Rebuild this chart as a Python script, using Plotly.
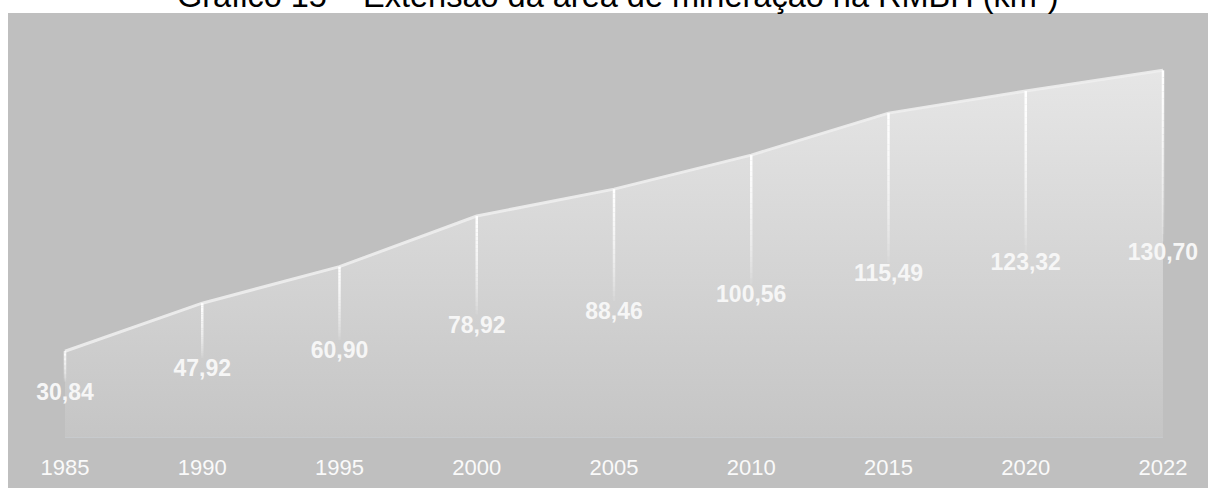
import plotly.graph_objects as go

# Mining area in the RMBH (km²) by year
years = ["1985", "1990", "1995", "2000", "2005", "2010", "2015", "2020", "2022"]
area_km2 = [30.84, 47.92, 60.90, 78.92, 88.46, 100.56, 115.49, 123.32, 130.70]

title_text = "Gráfico 15 – Extensão da área de mineração na RMBH (km²)"

panel_bg = "#BFBFBF"
label_color = "#F6F6F6"
font_family = "Liberation Sans, Arial, sans-serif"

fig = go.Figure()

# Filled area with a vertical light-to-gray gradient
fig.add_trace(go.Scatter(
    x=years,
    y=area_km2,
    mode="lines",
    fill="tozeroy",
    fillgradient=dict(
        type="vertical",
        start=0,
        stop=max(area_km2),
        colorscale=[[0.0, "#C5C5C5"], [1.0, "#E6E6E6"]],
    ),
    line=dict(color="rgba(238,238,238,0.9)", width=3),
    hoverinfo="skip",
    showlegend=False,
))

# White drop lines from each point down to just above its label,
# fading out; one trace per opacity step, drawn before the labels
steps = 24
label_gap = 4.5  # data units between line end and label centre
for k in range(steps):
    xs, ys = [], []
    for yr, v in zip(years, area_km2):
        end = v / 2 + label_gap
        span = v - end
        xs += [yr, yr, None]
        ys += [v - span * k / steps, v - span * (k + 1) / steps, None]
    alpha = max(0.0, 1 - (k + 0.5) / steps) ** 0.6
    fig.add_trace(go.Scatter(
        x=xs,
        y=ys,
        mode="lines",
        line=dict(color=f"rgba(255,255,255,{alpha:.3f})", width=2.5),
        hoverinfo="skip",
        showlegend=False,
        cliponaxis=False,
    ))

# Value labels centred halfway up each point
fig.add_trace(go.Scatter(
    x=years,
    y=[v / 2 for v in area_km2],
    mode="text",
    text=[f"{v:.2f}".replace(".", ",") for v in area_km2],
    textposition="middle center",
    textfont=dict(family=font_family, size=23, color=label_color, weight="bold"),
    hoverinfo="skip",
    showlegend=False,
    cliponaxis=False,
))

shapes = [
    # Gray panel behind the chart
    dict(
        type="rect", xref="paper", yref="paper",
        x0=0, x1=1, y0=-50 / 422, y1=1 + 3 / 422,
        fillcolor=panel_bg, line=dict(width=0), layer="below",
    ),
    # Baseline under the area (category serial numbers on the x axis)
    dict(
        type="line", xref="x", yref="y",
        x0=0, x1=len(years) - 1, y0=0, y1=0,
        line=dict(color="#C9CED5", width=1),
    ),
]

fig.update_layout(
    width=1208,
    height=488,
    margin=dict(l=8, r=0, t=16, b=50),
    paper_bgcolor="white",
    plot_bgcolor="rgba(0,0,0,0)",
    shapes=shapes,
    annotations=[dict(
        text=title_text,
        xref="paper", yref="paper",
        x=0.508, y=1.0,
        xanchor="center", yanchor="bottom",
        showarrow=False,
        font=dict(family=font_family, size=32.5, color="#000000"),
    )],
    xaxis=dict(
        type="category",
        range=[-0.4153, 8.328],
        showgrid=False,
        zeroline=False,
        showline=False,
        ticks="",
        tickfont=dict(family=font_family, size=22, color="#FAFAFA"),
        ticklabelstandoff=14,
        fixedrange=True,
    ),
    yaxis=dict(
        range=[0, 150],
        visible=False,
        fixedrange=True,
    ),
)

fig.write_html("out.html")
